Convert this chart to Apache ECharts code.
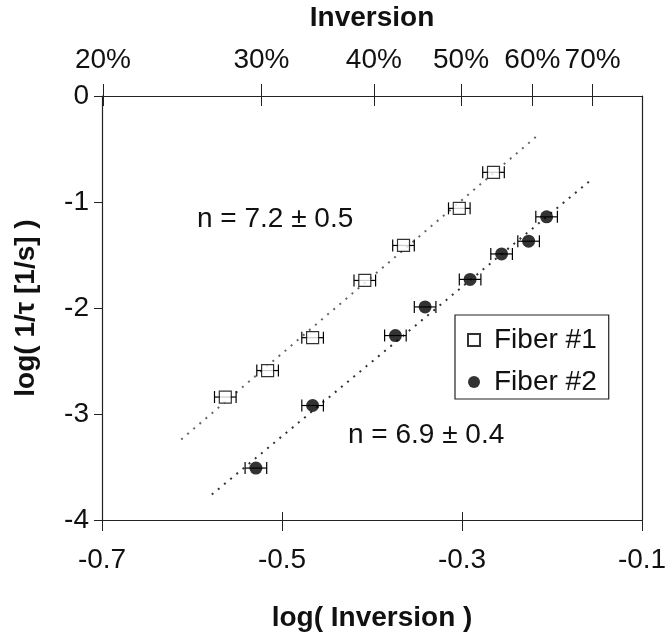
<html>
<head>
  <meta charset="utf-8">
  <title></title>
  <style>
    body { margin: 0; background: #fff; }
  </style>
</head>
<body>
  <div id="main" style="width: 665px;height:633px;"></div>
</body>
<script src="https://cdn.jsdelivr.net/npm/echarts@6/dist/echarts.min.js"></script>
<script>
  // log(Inversion) vs log(1/tau)
  let fiber1X = [-0.563, -0.516, -0.466, -0.408, -0.365, -0.303, -0.265];
  let fiber1Y = [-2.84, -2.59, -2.28, -1.74, -1.41, -1.06, -0.72];
  let fiber1Err = [0.012, 0.012, 0.012, 0.012, 0.012, 0.012, 0.012];

  let fiber2X = [-0.529, -0.466, -0.374, -0.341, -0.291, -0.256, -0.226, -0.206];
  let fiber2Y = [-3.51, -2.92, -2.26, -1.99, -1.73, -1.49, -1.37, -1.14];
  let fiber2Err = [0.012, 0.012, 0.012, 0.012, 0.012, 0.012, 0.012, 0.012];

  // dotted power-law fits (end points)
  let fit1X = [-0.612, -0.217];
  let fit1Y = [-3.24, -0.38];
  let fit2X = [-0.578, -0.155];
  let fit2Y = [-3.76, -0.78];

  let bottomTicks = [-0.7, -0.5, -0.3, -0.1];
  let topPercents = [20, 30, 40, 50, 60, 70];
  let yTicks = [0, -1, -2, -3, -4];

  let topTicks = topPercents.map(p => Math.log10(p / 100));
  let font = 'Liberation Sans, Arial, sans-serif';
  let ink = '#111';

  let zip = (xs, ys) => xs.map((x, i) => [x, ys[i]]);
  let zipErr = (xs, ys, es) => xs.map((x, i) => [x, ys[i], es[i]]);

  function errorBars(params, api) {
    let x = api.value(0), y = api.value(1), e = api.value(2);
    let a = api.coord([x - e, y]);
    let b = api.coord([x + e, y]);
    let cap = 6;
    let st = { stroke: '#000', lineWidth: 1.2 };
    return {
      type: 'group',
      children: [
        { type: 'line', shape: { x1: a[0], y1: a[1], x2: b[0], y2: b[1] }, style: st },
        { type: 'line', shape: { x1: a[0], y1: a[1] - cap, x2: a[0], y2: a[1] + cap }, style: st },
        { type: 'line', shape: { x1: b[0], y1: b[1] - cap, x2: b[0], y2: b[1] + cap }, style: st }
      ]
    };
  }

  let xBase = { type: 'value', min: -0.7, max: -0.1, splitLine: { show: false } };
  let axisLine = { show: true, onZero: false, lineStyle: { color: '#222', width: 1.2 } };
  let hiddenLine = { show: true, onZero: false, lineStyle: { color: 'rgba(0,0,0,0)' } };

  var myChart = echarts.init(document.getElementById('main'));

  option = {
    animation: false,
    textStyle: { fontFamily: font },
    grid: { left: 102, right: 23, top: 96, bottom: 113, containLabel: false, outerBoundsMode: 'none' },
    legend: {
      data: ['Fiber #1', 'Fiber #2'],
      orient: 'vertical',
      left: 455,
      top: 315,
      borderColor: '#222',
      borderWidth: 1.2,
      backgroundColor: '#fff',
      padding: [11, 12, 3, 12],
      itemWidth: 12,
      itemHeight: 12,
      itemGap: 14,
      textStyle: { fontSize: 28, color: ink, fontFamily: font, lineHeight: 28, padding: [0, 0, 0, 9] }
    },
    xAxis: [
      Object.assign({}, xBase, {
        position: 'bottom',
        name: 'log( Inversion )',
        nameLocation: 'middle',
        nameGap: 84,
        nameTextStyle: { fontSize: 28, fontWeight: 'bold', color: ink },
        axisLine: axisLine,
        axisTick: { show: true, length: 11, customValues: bottomTicks, lineStyle: { color: '#222' } },
        axisLabel: { customValues: bottomTicks, margin: 26, fontSize: 28, color: ink,
          formatter: v => v.toFixed(1) }
      }),
      Object.assign({}, xBase, {
        position: 'bottom',
        axisLine: hiddenLine,
        axisTick: { show: true, inside: true, length: 8, customValues: bottomTicks, lineStyle: { color: '#222' } },
        axisLabel: { show: true, customValues: bottomTicks, formatter: () => '' }
      }),
      Object.assign({}, xBase, {
        position: 'top',
        name: 'Inversion',
        nameLocation: 'middle',
        nameGap: 64,
        nameTextStyle: { fontSize: 28, fontWeight: 'bold', color: ink },
        axisLine: axisLine,
        axisTick: { show: true, length: 12, customValues: topTicks, lineStyle: { color: '#222' } },
        axisLabel: { customValues: topTicks, margin: 22, fontSize: 28, color: ink,
          formatter: v => Math.round(Math.pow(10, v) * 100) + '%' }
      }),
      Object.assign({}, xBase, {
        position: 'top',
        axisLine: hiddenLine,
        axisTick: { show: true, inside: true, length: 10, customValues: topTicks, lineStyle: { color: '#222' } },
        axisLabel: { show: true, customValues: topTicks, formatter: () => '' }
      })
    ],
    yAxis: [
      {
        type: 'value', min: -4, max: 0, position: 'left',
        splitLine: { show: false },
        name: 'log( 1/τ [1/s] )',
        nameLocation: 'middle',
        nameGap: 62,
        nameTextStyle: { fontSize: 28, fontWeight: 'bold', color: ink },
        axisLine: axisLine,
        axisTick: { show: true, length: 8, customValues: yTicks, lineStyle: { color: '#222' } },
        axisLabel: { customValues: yTicks, margin: 13, fontSize: 28, color: ink }
      },
      {
        type: 'value', min: -4, max: 0, position: 'right',
        splitLine: { show: false },
        axisLine: axisLine,
        axisTick: { show: false },
        axisLabel: { show: false }
      }
    ],
    graphic: [
      { type: 'text', left: 197, top: 205, style: { text: 'n = 7.2 ± 0.5', fontSize: 28, fill: ink, fontFamily: font } },
      { type: 'text', left: 348, top: 421, style: { text: 'n = 6.9 ± 0.4', fontSize: 28, fill: ink, fontFamily: font } }
    ],
    series: [
      {
        name: 'fit1', type: 'line', data: zip(fit1X, fit1Y), showSymbol: false, silent: true,
        lineStyle: { color: '#666', width: 2, type: [2, 6] }, z: 1
      },
      {
        name: 'fit2', type: 'line', data: zip(fit2X, fit2Y), showSymbol: false, silent: true,
        lineStyle: { color: '#333', width: 2, type: [2, 6] }, z: 1
      },
      {
        name: 'err1', type: 'custom', renderItem: errorBars, data: zipErr(fiber1X, fiber1Y, fiber1Err),
        encode: { x: 0, y: 1 }, z: 2
      },
      {
        name: 'err2', type: 'custom', renderItem: errorBars, data: zipErr(fiber2X, fiber2Y, fiber2Err),
        encode: { x: 0, y: 1 }, z: 2
      },
      {
        name: 'Fiber #1', type: 'scatter', data: zip(fiber1X, fiber1Y),
        symbol: 'rect', symbolSize: 12,
        itemStyle: { color: '#fff', borderColor: '#000', borderWidth: 1.2 }, z: 3
      },
      {
        name: 'Fiber #2', type: 'scatter', data: zip(fiber2X, fiber2Y),
        symbol: 'circle', symbolSize: 13,
        itemStyle: { color: '#000' }, z: 3
      }
    ]
  };

  myChart.setOption(option);
</script>
</html>
